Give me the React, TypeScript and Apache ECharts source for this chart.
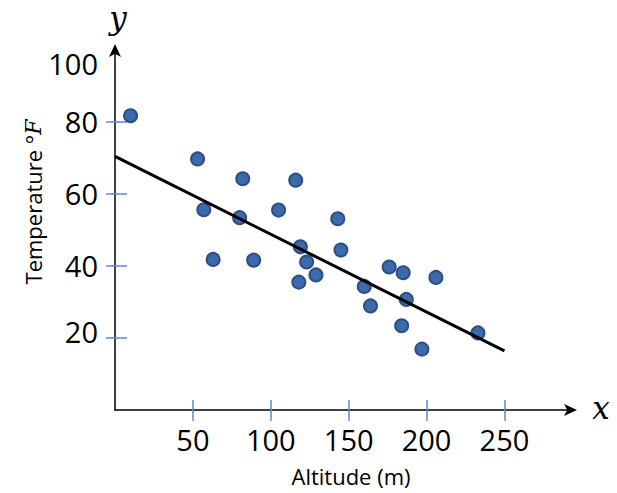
import React, { useEffect, useRef } from "react";
import * as echarts from "echarts";

const altitude = [10, 53, 57, 63, 82, 80, 89, 105, 116, 119, 123, 118, 129, 143, 145, 160, 164, 176, 185, 187, 184, 197, 206, 233];
const temperature = [81.7, 69.7, 55.6, 41.8, 64.2, 53.4, 41.6, 55.5, 63.8, 45.3, 41.1, 35.5, 37.5, 53.1, 44.4, 34.3, 28.9, 39.7, 38.1, 30.7, 23.4, 16.9, 36.8, 21.4];
const trendX = [0, 250];
const trendY = [70.4, 16.4];
const xTicks = [50, 100, 150, 200, 250];
const yTicks = [20, 40, 60, 80];
const yLabels = [20, 40, 60, 80, 100];

export default function App() {
  const ref = useRef<HTMLDivElement>(null);
  useEffect(() => {
    const chart = echarts.init(ref.current!, null, { renderer: "svg" });
    const tickColor = "#5b8ad0";
    const labelFont = { fontFamily: "Open Sans", fontSize: 29, color: "#000" };
    const xBase = {
      type: "value",
      min: 0,
      max: 294,
      position: "bottom",
      splitLine: { show: false },
    };
    const yBase = {
      type: "value",
      min: 0,
      max: 100.5,
      position: "left",
      splitLine: { show: false },
    };
    chart.setOption({
      animation: false,
      grid: { left: 115, top: 48, width: 458, height: 362, containLabel: false },
      xAxis: [
        {
          ...xBase,
          axisLine: { show: true, lineStyle: { color: "#000", width: 1.5 }, symbol: ["none", "arrow"], symbolSize: [9, 13], symbolOffset: [0, 4] },
          axisTick: { show: true, inside: true, length: 10, customValues: xTicks, lineStyle: { color: tickColor, width: 1.5 } },
          axisLabel: { show: true, customValues: xTicks, margin: 15, ...labelFont },
        },
        {
          ...xBase,
          axisLine: { show: false },
          axisTick: { show: true, inside: false, length: 11, customValues: xTicks, lineStyle: { color: tickColor, width: 1.5 } },
          axisLabel: { show: false },
        },
      ],
      yAxis: [
        {
          ...yBase,
          axisLine: { show: true, lineStyle: { color: "#000", width: 1.5 }, symbol: ["none", "arrow"], symbolSize: [9, 13], symbolOffset: [0, 4] },
          axisTick: { show: true, inside: true, length: 12, customValues: yTicks, lineStyle: { color: tickColor, width: 1.5 } },
          axisLabel: {
            show: true,
            customValues: yLabels,
            margin: 17,
            ...labelFont,
            formatter: (v: number) => (v === 100 ? "{a|100}" : v === 20 ? "{b|20}" : String(v)),
            rich: {
              a: { ...labelFont, padding: [28, 0, 0, 0] },
              b: { ...labelFont, padding: [0, 0, 12, 0] },
            },
          },
        },
        {
          ...yBase,
          axisLine: { show: false },
          axisTick: { show: true, inside: false, length: 9, customValues: yTicks, lineStyle: { color: tickColor, width: 1.5 } },
          axisLabel: { show: false },
        },
      ],
      series: [
        {
          type: "scatter",
          xAxisIndex: 0,
          yAxisIndex: 0,
          symbolSize: 13,
          itemStyle: { color: "#3d6aab", borderColor: "#2d4f86", borderWidth: 2, opacity: 1 },
          data: altitude.map((a, i) => [a, temperature[i]]),
          z: 2,
        },
        {
          type: "line",
          xAxisIndex: 0,
          yAxisIndex: 0,
          symbol: "none",
          lineStyle: { color: "#000", width: 3 },
          data: trendX.map((a, i) => [a, trendY[i]]),
          z: 3,
        },
      ],
      graphic: [
        { type: "text", x: 118, y: 18, style: { text: "y", fontFamily: "DejaVu Serif", fontStyle: "italic", fontSize: 31, fill: "#000", align: "center", verticalAlign: "middle" } },
        { type: "text", x: 601, y: 408, style: { text: "x", fontFamily: "DejaVu Serif", fontStyle: "italic", fontSize: 31, fill: "#000", align: "center", verticalAlign: "middle" } },
        { type: "text", x: 351, y: 476, style: { text: "Altitude (m)", fontFamily: "Open Sans", fontSize: 22, fill: "#000", align: "center", verticalAlign: "middle" } },
        {
          type: "text",
          x: 33,
          y: 202,
          rotation: Math.PI / 2,
          style: {
            text: "{a|Temperature °}{b|F}",
            fontFamily: "Open Sans",
            fontSize: 22,
            fill: "#000",
            align: "center",
            verticalAlign: "middle",
            rich: {
              a: { fontFamily: "Open Sans", fontSize: 22, fill: "#000" },
              b: { fontFamily: "DejaVu Serif", fontStyle: "italic", fontSize: 22, fill: "#000" },
            },
          },
        },
      ],
    });
    return () => chart.dispose();
  }, []);
  return (
    <div style={{ position: "absolute", left: 0, top: 0 }}>
      <div ref={ref} style={{ width: 617, height: 493 }} />
    </div>
  );
}
